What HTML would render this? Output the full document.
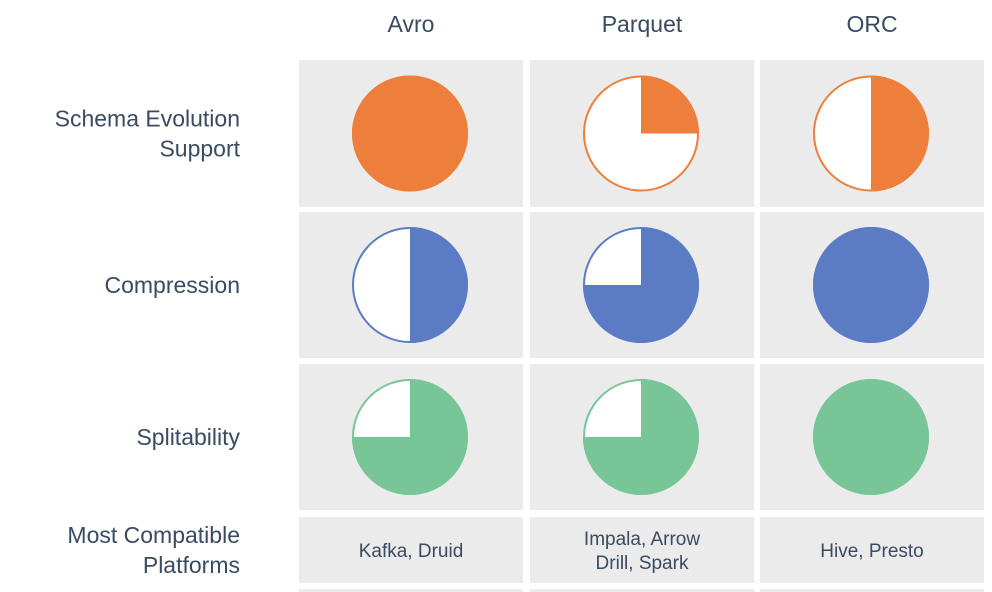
<!DOCTYPE html>
<html><head><meta charset="utf-8"><style>
body{margin:0;width:992px;height:592px;background:#fff;overflow:hidden;font-family:"Liberation Sans",sans-serif;color:#3a4a60}
svg{display:block}
</style></head><body>
<svg id="chart" width="992" height="592"></svg>
<script>
const formats = ["Avro","Parquet","ORC"];
const features = ["Schema Evolution Support","Compression","Splitability"];
const schemaScores = [1, 0.25, 0.5];
const compressionScores = [0.5, 0.75, 1];
const splitScores = [0.75, 0.75, 1];
const platforms = [["Kafka, Druid"],["Impala, Arrow","Drill, Spark"],["Hive, Presto"]];
const rowLabels = [["Schema Evolution","Support"],["Compression"],["Splitability"],["Most Compatible","Platforms"]];
const colors = ["#ED7E3C","#5B7CC5","#78C597"];
const scores = [schemaScores, compressionScores, splitScores];

const NS="http://www.w3.org/2000/svg";
const svg=document.getElementById('chart');
const colX=[299,530,760], colW=224;
const rowY=[60,212,364,517], rowH=[147,146,146,66];
function el(t,a){const e=document.createElementNS(NS,t);for(const k in a)e.setAttribute(k,a[k]);svg.appendChild(e);return e;}

formats.forEach((f,i)=>{
  const t=el('text',{x:colX[i]+colW/2,y:32,'text-anchor':'middle','font-size':23,fill:'#3a4a60'});
  t.textContent=f;
  
  
});
rowLabels.forEach((lines,r)=>{
  const cy=rowY[r]+rowH[r]/2;
  lines.forEach((ln,j)=>{
    const t=el('text',{x:240,y:cy+8+(j-(lines.length-1)/2)*30,'text-anchor':'end','font-size':23,fill:'#3a4a60'});
    t.textContent=ln;
    
    
  });
});
for(let r=0;r<4;r++)for(let c=0;c<3;c++){
  const b=el('rect',{x:colX[c],y:rowY[r],width:colW,height:rowH[r],fill:'#ebebeb'});
  
  
}
for(let c=0;c<3;c++){
  const b=el('rect',{x:colX[c],y:589,width:colW,height:4,fill:'#ebebeb'});
  
  
}
const R=58;
scores.forEach((arr,r)=>{
  arr.forEach((v,c)=>{
    const cx=colX[c]+colW/2-1, cy=rowY[r]+rowH[r]/2;
    const col=colors[r];
    const o=el('circle',{cx,cy,r:R-1,fill:'#fff',stroke:col,'stroke-width':2});
    
    
    let p;
    if(v>=1){p=el('circle',{cx,cy,r:R,fill:col});}
    else if(v>0){
      const a=v*2*Math.PI;
      const x2=cx+R*Math.sin(a), y2=cy-R*Math.cos(a);
      p=el('path',{d:`M${cx},${cy} L${cx},${cy-R} A${R},${R} 0 ${v>0.5?1:0} 1 ${x2},${y2} Z`,fill:col});
    }
    if(p){
      
      
    }
  });
});
platforms.forEach((lines,c)=>{
  const cy=rowY[3]+rowH[3]/2;
  lines.forEach((ln,j)=>{
    const t=el('text',{x:colX[c]+colW/2,y:cy+7+(j-(lines.length-1)/2)*24,'text-anchor':'middle','font-size':19,fill:'#3a4a60'});
    t.textContent=ln;
    
    
  });
});
</script>
</body></html>
